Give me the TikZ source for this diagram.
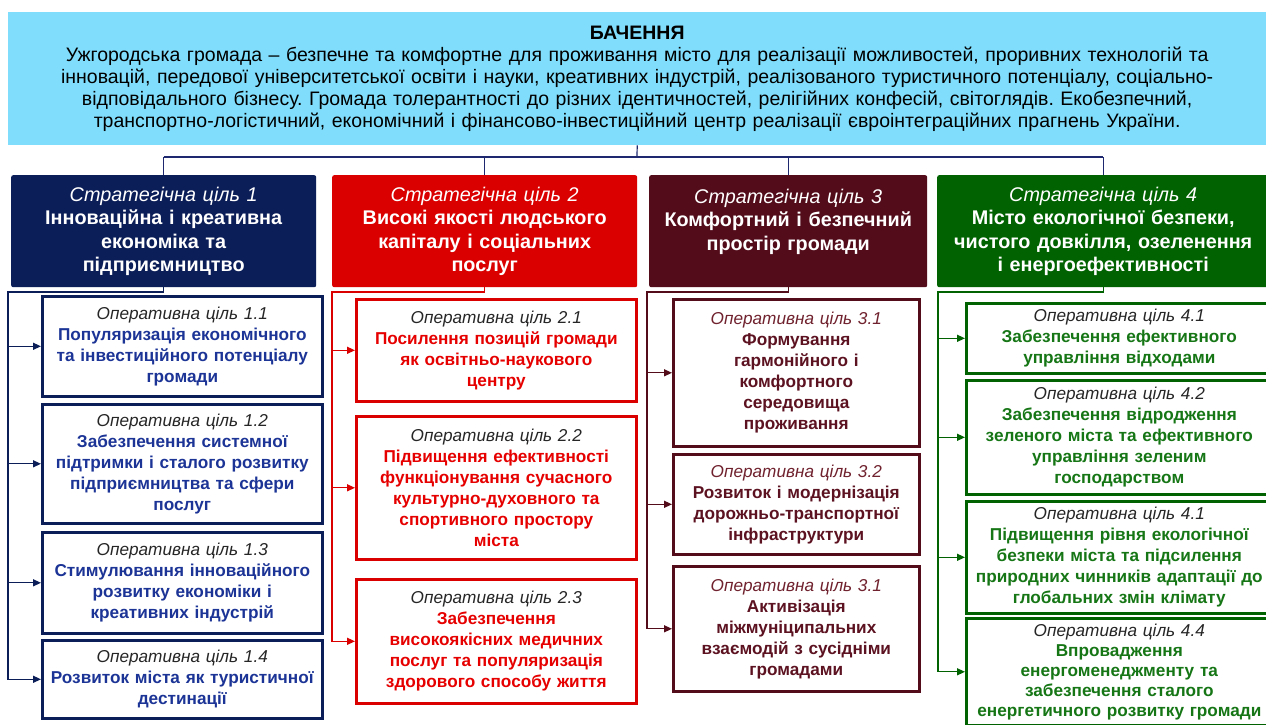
\documentclass[tikz,border=0pt]{standalone}
\usepackage{fontspec}
\setmainfont{Liberation Sans}
\frenchspacing
\usetikzlibrary{arrows.meta,calc}
\definecolor{bannerC}{RGB}{128,222,252}
\definecolor{navyC}{RGB}{12,30,88}
\definecolor{blueT}{RGB}{28,52,150}
\definecolor{redC}{RGB}{218,0,0}
\definecolor{redT}{RGB}{230,0,0}
\definecolor{maroonC}{RGB}{82,12,26}
\definecolor{maroonT}{RGB}{92,18,32}
\definecolor{maroonI}{RGB}{112,34,46}
\definecolor{greenC}{RGB}{0,98,0}
\definecolor{greenT}{RGB}{22,118,22}
\definecolor{busC}{RGB}{30,40,110}
\newcommand\opl[2]{{\mdseries\itshape\color{#1}#2}}
\newcommand\hdl[1]{{\mdseries\itshape #1}}
\begin{document}
\begin{tikzpicture}[x=1pt,y=-1pt,
  banner/.style={fill=bannerC, anchor=north west, minimum width=1258pt, minimum height=133pt,
    inner sep=0pt, text width=1250pt, align=center, font=\fontsize{19.5}{22}\selectfont},
  hdr/.style={anchor=north west, inner xsep=4pt, inner ysep=0pt, align=center, text=white,
    font=\fontsize{19.8}{23.5}\selectfont\bfseries, rounded corners=2pt},
  op/.style={draw, line width=2.6pt, fill=white, anchor=north west, inner xsep=3pt, inner ysep=0pt,
    align=center, font=\fontsize{17.2}{21}\selectfont\bfseries},
  busline/.style={line width=1.2pt, draw=busC},
  cn/.style={line width=1.3pt, -{Triangle[length=8pt,width=7pt]}},
]
\useasboundingbox (0,0) rectangle (1266,725);
\clip (0,0) rectangle (1266,725);
\fill[white] (0,0) rectangle (1266,725);

% banner
\node[banner] (banner) at (8,12) {{\bfseries БАЧЕННЯ}\\
Ужгородська громада – безпечне та комфортне для проживання місто для реалізації можливостей, проривних технологій та\\
інновацій, передової університетської освіти і науки, креативних індустрій, реалізованого туристичного потенціалу, соціально-\\
відповідального бізнесу. Громада толерантності до різних ідентичностей, релігійних конфесій, світоглядів. Екобезпечний,\\
транспортно-логістичний, економічний і фінансово-інвестиційний центр реалізації євроінтеграційних прагнень України.};

% strategic headers
\node[hdr, fill=navyC, minimum width=305pt, text width=297pt, minimum height=112pt] (h1) at (11,175)
  {\hdl{Стратегічна ціль 1}\\Інноваційна і креативна\\економіка та\\підприємництво};
\node[hdr, fill=redC, minimum width=305pt, text width=297pt, minimum height=112pt] (h2) at (332,175)
  {\hdl{Стратегічна ціль 2}\\Високі якості людського\\капіталу і соціальних\\послуг};
\node[hdr, fill=maroonC, minimum width=278pt, text width=270pt, minimum height=112pt] (h3) at (649,175)
  {\hdl{Стратегічна ціль 3}\\Комфортний і безпечний\\простір громади\\\mbox{}};
\node[hdr, fill=greenC, minimum width=332pt, text width=324pt, minimum height=112pt] (h4) at (937,175)
  {\hdl{Стратегічна ціль 4}\\Місто екологічної безпеки,\\чистого довкілля, озеленення\\і енергоефективності};

% bus from banner
\coordinate (bus) at (637,157);
\draw[busline] (banner.south) -- (bus);
\draw[busline] (h1.north |- bus) -- (h4.north |- bus);
\foreach \h in {h1,h2,h3,h4} \draw[busline] (\h.north |- bus) -- (\h.north);

% column 1
\begin{scope}[every node/.style={op, draw=navyC, text=blueT, minimum width=280pt, text width=274pt}]
\node[minimum height=100pt] (o11) at (41,295) {\opl{black!85}{Оперативна ціль 1.1}\\Популяризація економічного\\та інвестиційного потенціалу\\громади};
\node[minimum height=119pt] (o12) at (41,403) {\opl{black!85}{Оперативна ціль 1.2}\\Забезпечення системної\\підтримки і сталого розвитку\\підприємництва та сфери\\послуг};
\node[minimum height=101pt] (o13) at (41,531) {\opl{black!85}{Оперативна ціль 1.3}\\Стимулювання інноваційного\\розвитку економіки і\\креативних індустрій};
\node[minimum height=78pt] (o14) at (41,639) {\opl{black!85}{Оперативна ціль 1.4}\\Розвиток міста як туристичної\\дестинації};
\end{scope}
\coordinate (t1) at (8,292);
\draw[cn, color=navyC] (h1.south) |- (t1) |- (o14.west);
\foreach \o in {o11,o12,o13} \draw[cn, color=navyC] (t1 |- \o.west) -- (\o.west);

% column 2
\begin{scope}[every node/.style={op, draw=redC, text=redT, minimum width=280pt, text width=274pt}]
\node[minimum height=102pt] (o21) at (355,298) {\opl{black!85}{Оперативна ціль 2.1}\\Посилення позицій громади\\як освітньо-наукового\\центру};
\node[minimum height=143pt] (o22) at (355,415) {\opl{black!85}{Оперативна ціль 2.2}\\Підвищення ефективності\\функціонування сучасного\\культурно-духовного та\\спортивного простору\\міста};
\node[minimum height=124pt] (o23) at (355,578) {\opl{black!85}{Оперативна ціль 2.3}\\Забезпечення\\високоякісних медичних\\послуг та популяризація\\здорового способу життя};
\end{scope}
\coordinate (t2) at (332,292);
\draw[cn, color=redC] (h2.south) |- (t2) |- (o23.west);
\foreach \o in {o21,o22} \draw[cn, color=redC] (t2 |- \o.west) -- (\o.west);

% column 3
\begin{scope}[every node/.style={op, draw=maroonC, text=maroonT, minimum width=246pt, text width=240pt}]
\node[minimum height=147pt] (o31) at (672,298) {\opl{maroonI}{Оперативна ціль 3.1}\\Формування\\гармонійного і\\комфортного\\середовища\\проживання};
\node[minimum height=100pt] (o32) at (672,453) {\opl{maroonI}{Оперативна ціль 3.2}\\Розвиток і модернізація\\дорожньо-транспортної\\інфраструктури};
\node[minimum height=125pt] (o33) at (672,565) {\opl{maroonI}{Оперативна ціль 3.1}\\Активізація\\міжмуніципальних\\взаємодій з сусідніми\\громадами};
\end{scope}
\coordinate (t3) at (647,292);
\draw[cn, color=maroonC] (h3.south) |- (t3) |- (o33.west);
\foreach \o in {o31,o32} \draw[cn, color=maroonC] (t3 |- \o.west) -- (\o.west);

% column 4
\begin{scope}[every node/.style={op, draw=greenC, text=greenT, minimum width=306pt, text width=300pt}]
\node[minimum height=70pt] (o41) at (965,302) {\opl{black!85}{Оперативна ціль 4.1}\\Забезпечення ефективного\\управління відходами};
\node[minimum height=114pt] (o42) at (965,379) {\opl{black!85}{Оперативна ціль 4.2}\\Забезпечення відродження\\зеленого міста та ефективного\\управління зеленим\\господарством};
\node[minimum height=112pt] (o43) at (965,500) {\opl{black!85}{Оперативна ціль 4.1}\\Підвищення рівня екологічної\\безпеки міста та підсилення\\природних чинників адаптації до\\глобальних змін клімату};
\node[minimum height=107pt, font=\fontsize{17.2}{20}\selectfont\bfseries] (o44) at (965,617) {\opl{black!85}{Оперативна ціль 4.4}\\Впровадження\\енергоменеджменту та\\забезпечення сталого\\енергетичного розвитку громади};
\end{scope}
\coordinate (t4) at (938,292);
\draw[cn, color=greenC] (h4.south) |- (t4) |- (o44.west);
\foreach \o in {o41,o42,o43} \draw[cn, color=greenC] (t4 |- \o.west) -- (\o.west);
\end{tikzpicture}
\end{document}
